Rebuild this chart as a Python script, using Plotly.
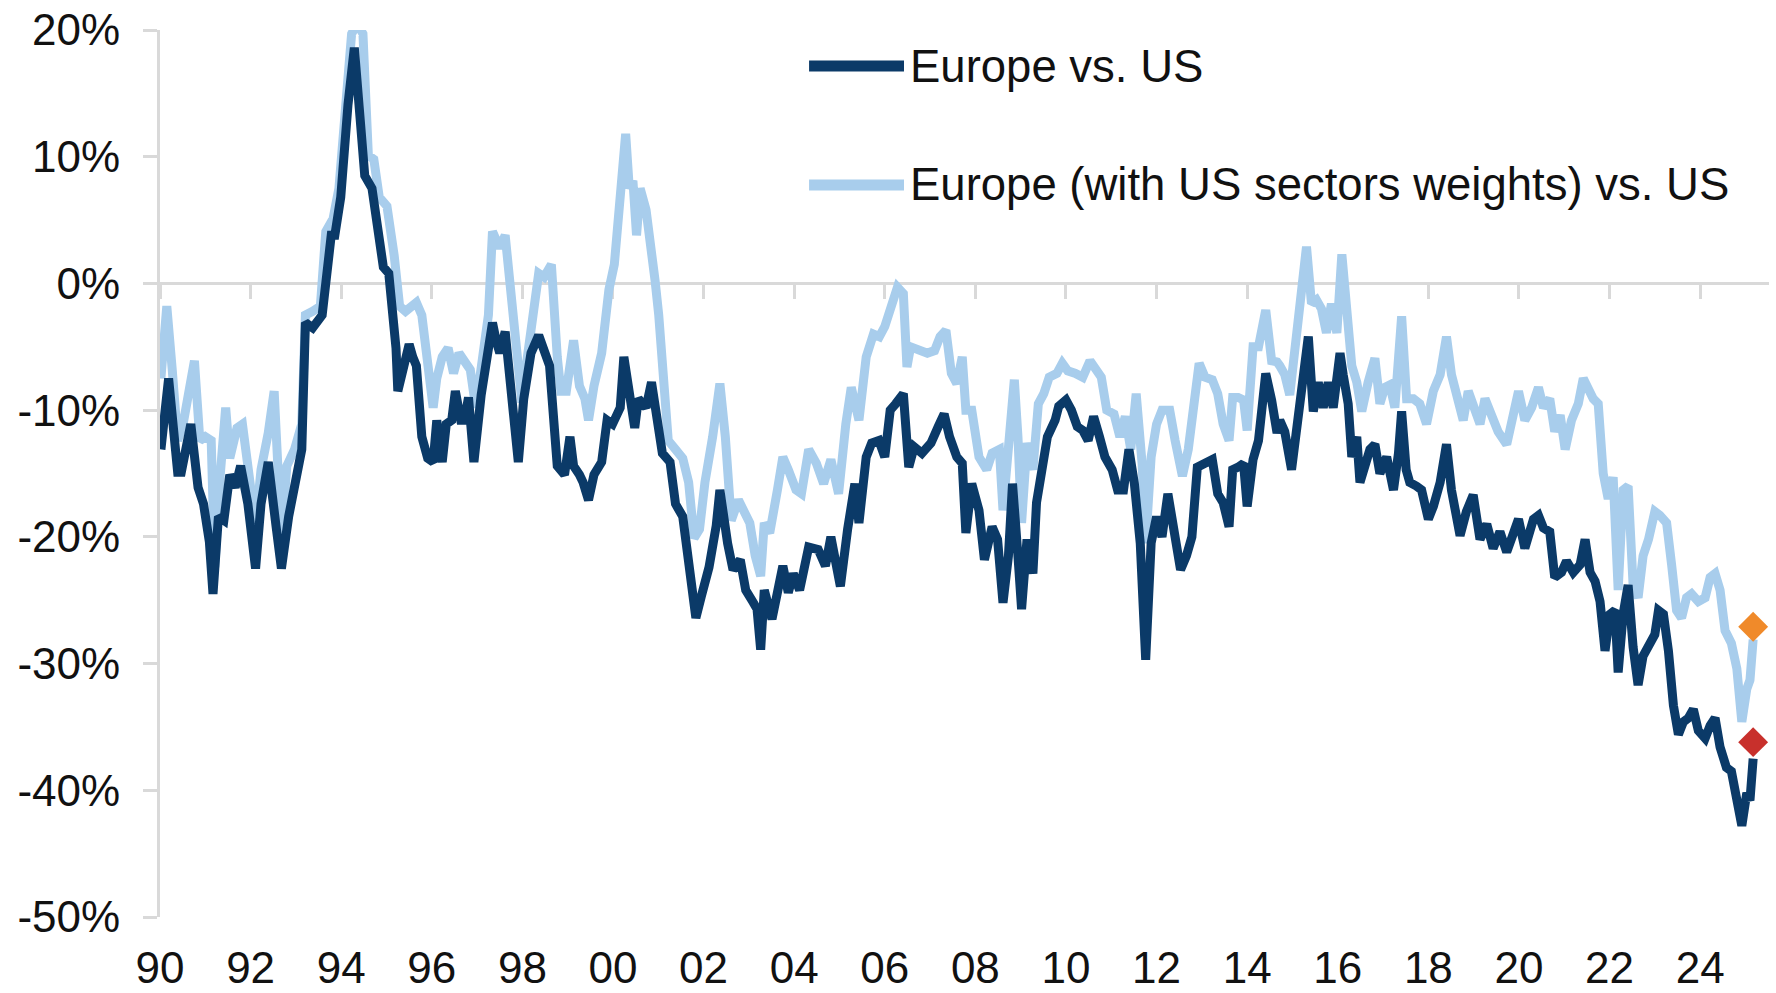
import plotly.graph_objects as go

# ---------------- data (decimal years, % relative performance) ----------------
eu_years = [
    1990.02, 1990.19, 1990.39, 1990.47, 1990.68, 1990.84, 1990.96, 1991.09, 1991.17, 1991.29,
    1991.41, 1991.54, 1991.66, 1991.78, 1991.94, 1992.11, 1992.23, 1992.39, 1992.56, 1992.68,
    1992.84, 1993.01, 1993.13, 1993.21, 1993.37, 1993.58, 1993.78, 1993.86, 1993.99, 1994.15,
    1994.29, 1994.40, 1994.52, 1994.68, 1994.80, 1994.89, 1994.93, 1995.05, 1995.21, 1995.25,
    1995.42, 1995.50, 1995.58, 1995.66, 1995.78, 1995.91, 1996.03, 1996.11, 1996.23, 1996.32,
    1996.44, 1996.52, 1996.64, 1996.72, 1996.81, 1996.93, 1997.09, 1997.21, 1997.34, 1997.42,
    1997.50, 1997.62, 1997.75, 1997.91, 1998.03, 1998.19, 1998.36, 1998.48, 1998.60, 1998.77,
    1998.93, 1999.05, 1999.13, 1999.26, 1999.34, 1999.46, 1999.58, 1999.75, 1999.87, 1999.99,
    2000.16, 2000.24, 2000.32, 2000.40, 2000.48, 2000.56, 2000.73, 2000.85, 2000.97, 2001.09,
    2001.26, 2001.38, 2001.54, 2001.67, 2001.83, 2001.95, 2002.12, 2002.28,
    2002.36, 2002.53, 2002.65, 2002.81, 2002.93, 2003.10, 2003.18, 2003.26, 2003.34, 2003.51,
    2003.63, 2003.75, 2003.87, 2003.98, 2004.12, 2004.32, 2004.53, 2004.69, 2004.81, 2005.02,
    2005.18, 2005.34, 2005.43, 2005.59, 2005.71, 2005.87, 2006.00, 2006.12, 2006.24, 2006.41,
    2006.53, 2006.65, 2006.82, 2007.02, 2007.18, 2007.31, 2007.43, 2007.59, 2007.71, 2007.79,
    2007.92, 2008.08, 2008.20, 2008.37, 2008.49, 2008.61, 2008.73, 2008.82, 2008.94, 2009.02,
    2009.14, 2009.27, 2009.35, 2009.47, 2009.59, 2009.76, 2009.84, 2010.00, 2010.12, 2010.25,
    2010.37, 2010.49, 2010.61, 2010.74, 2010.86, 2011.02, 2011.14, 2011.27, 2011.39, 2011.51,
    2011.64, 2011.76, 2011.88, 2012.00, 2012.12, 2012.25, 2012.37, 2012.53, 2012.66, 2012.78,
    2012.90, 2013.06, 2013.23, 2013.35, 2013.47, 2013.60, 2013.68, 2013.80, 2013.92, 2014.00,
    2014.13, 2014.25, 2014.41, 2014.54, 2014.66,
    2014.72, 2014.83, 2014.98, 2015.13, 2015.24, 2015.35, 2015.46, 2015.57, 2015.68, 2015.79,
    2015.90, 2015.98, 2016.05, 2016.12, 2016.23, 2016.31, 2016.42, 2016.49, 2016.60, 2016.71,
    2016.82, 2016.93, 2017.08, 2017.23, 2017.34, 2017.41, 2017.51, 2017.59, 2017.74, 2017.85,
    2018.00, 2018.11, 2018.26, 2018.40, 2018.51, 2018.59, 2018.70, 2018.84, 2018.99, 2019.14,
    2019.29, 2019.43, 2019.58, 2019.73, 2019.88, 2019.99, 2020.13, 2020.32, 2020.43, 2020.54,
    2020.68, 2020.79, 2020.94, 2021.05, 2021.20, 2021.35, 2021.46, 2021.57, 2021.68, 2021.79,
    2021.90, 2022.01, 2022.12, 2022.19, 2022.30, 2022.41, 2022.52, 2022.63, 2022.74, 2022.86,
    2023.00, 2023.08, 2023.19, 2023.30, 2023.41, 2023.52, 2023.63, 2023.74, 2023.85, 2023.96,
    2024.11, 2024.22, 2024.33, 2024.44, 2024.58, 2024.69, 2024.81, 2024.92, 2025.03, 2025.10,
    2025.17,
]
eu_values = [
    -13.1, -7.5, -14.9, -14.9, -11.1, -16.1, -17.4, -20.4, -24.5, -18.4,
    -18.7, -15.1, -16.1, -14.4, -17.4, -22.5, -17.4, -14.1, -19.1, -22.5,
    -18.4, -15.1, -13.1, -3.1, -3.5, -2.5, 3.8, 3.8, 6.8, 14.1,
    18.6, 13.8, 8.5, 7.5, 4.5, 2.8, 1.3, 0.8, -5.1, -8.5,
    -5.5, -4.8, -5.8, -6.5, -12.1, -13.8, -14.1, -10.8, -14.1, -11.1,
    -10.8, -8.5, -10.8, -10.8, -9.0, -14.1, -8.8, -5.8, -3.1, -4.5,
    -5.5, -3.8, -9.1, -14.1, -9.1, -5.5, -4.1, -5.5, -6.5, -14.4,
    -15.1, -12.1, -14.4, -15.1, -15.7, -17.1, -15.1, -14.1, -10.8, -11.1,
    -9.8, -5.8, -7.5, -8.8, -11.4, -9.1, -9.8, -7.8, -11.1, -13.4,
    -14.1, -17.4, -18.4, -22.4, -26.4, -24.7, -22.4, -19.1,
    -16.3, -20.5, -22.6, -21.8, -24.2, -25.2, -25.7, -28.9, -24.2, -26.5,
    -24.4, -22.3, -24.4, -22.9, -24.2, -20.8, -21.0, -22.3, -20.0, -23.9,
    -19.4, -15.8, -18.9, -13.7, -12.6, -12.4, -13.7, -10.0, -9.5, -8.7,
    -14.5, -12.9, -13.4, -12.6, -11.3, -10.3, -12.1, -13.7, -14.2, -19.7,
    -15.8, -17.9, -21.8, -19.2, -20.2, -25.2, -21.5, -15.8, -21.5, -25.7,
    -20.2, -22.9, -17.3, -14.2, -12.1, -10.8, -9.7, -9.2, -10.0, -11.3,
    -11.6, -12.4, -10.5, -12.1, -13.7, -14.7, -16.3, -16.3, -13.1, -15.8,
    -20.5, -29.7, -20.5, -18.4, -20.0, -16.6, -19.2, -22.6, -21.5, -20.0,
    -14.5, -14.2, -13.9, -16.6, -17.3, -19.2, -14.7, -14.5, -14.2, -17.6,
    -13.9, -12.4, -7.1, -9.2, -11.8,
    -10.8, -11.7, -14.7, -10.4, -7.2, -4.2, -10.1, -7.8, -9.8, -7.8,
    -9.8, -7.8, -5.5, -7.2, -9.5, -13.7, -12.1, -15.7, -14.4, -13.1,
    -12.7, -15.0, -13.7, -16.3, -13.4, -10.1, -14.7, -15.7, -16.0, -16.3,
    -18.6, -17.6, -15.7, -12.7, -16.3, -17.6, -19.9, -18.0, -16.7, -20.2,
    -19.0, -20.9, -19.6, -21.2, -19.6, -18.6, -20.9, -18.6, -18.3, -19.3,
    -19.6, -23.2, -22.8, -21.9, -22.8, -22.2, -20.2, -22.8, -23.5, -25.1,
    -29.0, -26.1, -25.8, -30.7, -26.1, -23.8, -28.7, -31.7, -29.4, -28.7,
    -27.7, -25.8, -26.1, -29.0, -33.3, -35.6, -34.6, -34.3, -33.6, -35.3,
    -35.9, -34.9, -34.3, -36.6, -38.2, -38.5, -40.5, -42.8, -40.2, -40.8,
    -37.5,
]

sw_years = [
    1990.02, 1990.15, 1990.27, 1990.39, 1990.51, 1990.64, 1990.76, 1990.88, 1991.00, 1991.13,
    1991.21, 1991.33, 1991.45, 1991.54, 1991.70, 1991.82, 1991.99, 1992.11, 1992.23, 1992.39,
    1992.52, 1992.60, 1992.68, 1992.80, 1992.97, 1993.13, 1993.21, 1993.37, 1993.54, 1993.66,
    1993.82, 1993.95, 1994.11, 1994.23, 1994.35, 1994.48, 1994.60, 1994.72, 1994.84, 1995.01,
    1995.17, 1995.29, 1995.42, 1995.58, 1995.66, 1995.78, 1995.91, 1996.03, 1996.11, 1996.23,
    1996.36, 1996.48, 1996.60, 1996.72, 1996.85, 1996.97, 1997.13, 1997.25, 1997.34, 1997.50,
    1997.62, 1997.75, 1997.87, 1997.99, 1998.11, 1998.28, 1998.36, 1998.48, 1998.64, 1998.77,
    1998.85, 1998.97, 1999.13, 1999.26, 1999.38, 1999.46, 1999.58, 1999.75, 1999.91, 2000.03,
    2000.16, 2000.28, 2000.36, 2000.44, 2000.52, 2000.60, 2000.73, 2000.85, 2000.93, 2001.01,
    2001.09, 2001.22, 2001.38, 2001.54, 2001.67, 2001.79, 2001.91, 2002.03, 2002.20,
    2002.36, 2002.48, 2002.61, 2002.77, 2002.89, 2003.02, 2003.14, 2003.26, 2003.34, 2003.46,
    2003.63, 2003.75, 2003.87, 2004.04, 2004.16, 2004.32, 2004.49, 2004.65, 2004.81, 2004.98,
    2005.14, 2005.26, 2005.43, 2005.59, 2005.75, 2005.88, 2006.00, 2006.12, 2006.20, 2006.28,
    2006.41, 2006.49, 2006.57, 2006.73, 2006.94, 2007.10, 2007.22, 2007.35, 2007.47, 2007.59,
    2007.71, 2007.79, 2007.92, 2008.08, 2008.25, 2008.37, 2008.53, 2008.61, 2008.73, 2008.86,
    2008.94, 2009.02, 2009.14, 2009.27, 2009.39, 2009.51, 2009.63, 2009.80, 2009.92, 2010.04,
    2010.21, 2010.37, 2010.53, 2010.65, 2010.78, 2010.90, 2011.06, 2011.19, 2011.31, 2011.43,
    2011.55, 2011.68, 2011.76, 2011.88, 2012.00, 2012.12, 2012.29, 2012.41, 2012.57, 2012.70,
    2012.82, 2012.94, 2013.07, 2013.23, 2013.35, 2013.47, 2013.60, 2013.68, 2013.80, 2013.92,
    2014.00, 2014.13, 2014.25, 2014.41, 2014.54, 2014.66,
    2014.72, 2014.83, 2014.94, 2015.09, 2015.24, 2015.31, 2015.42, 2015.53, 2015.64, 2015.75,
    2015.86, 2015.98, 2016.09, 2016.20, 2016.31, 2016.42, 2016.53, 2016.67, 2016.82, 2016.93,
    2017.04, 2017.15, 2017.26, 2017.41, 2017.52, 2017.67, 2017.81, 2017.96, 2018.11, 2018.26,
    2018.40, 2018.51, 2018.62, 2018.77, 2018.88, 2018.99, 2019.14, 2019.25, 2019.40, 2019.54,
    2019.73, 2019.88, 2019.99, 2020.13, 2020.28, 2020.43, 2020.54, 2020.68, 2020.79, 2020.91,
    2021.02, 2021.16, 2021.31, 2021.42, 2021.53, 2021.64, 2021.75, 2021.86, 2021.97, 2022.08,
    2022.19, 2022.30, 2022.41, 2022.52, 2022.63, 2022.74, 2022.86, 2023.00, 2023.11, 2023.26,
    2023.37, 2023.48, 2023.59, 2023.70, 2023.81, 2023.96, 2024.11, 2024.22, 2024.33, 2024.44,
    2024.55, 2024.69, 2024.81, 2024.92, 2025.03, 2025.10, 2025.17,
]
sw_values = [
    -7.5, -1.8, -6.8, -12.4, -11.1, -8.8, -6.1, -12.4, -12.1, -12.4,
    -22.4, -15.1, -9.8, -13.8, -11.4, -11.1, -15.1, -19.1, -14.7, -11.8,
    -8.5, -14.1, -20.1, -14.4, -13.1, -11.1, -2.5, -2.2, -1.8, 4.1,
    5.1, 7.5, 15.7, 19.7, 20.5, 19.7, 10.1, 9.8, 6.8, 6.1,
    2.2, -1.8, -2.2, -1.8, -1.5, -2.5, -5.8, -9.8, -7.5, -5.8,
    -5.1, -7.1, -5.5, -6.1, -6.8, -9.8, -5.8, -2.5, 4.1, 2.8,
    3.8, -0.8, -5.5, -9.4, -5.8, -0.5, 0.8, 0.5, 1.5, -5.8,
    -8.5, -8.5, -4.5, -8.1, -9.1, -10.8, -8.1, -5.5, -0.5, 1.5,
    6.8, 11.8, 7.5, 8.1, 3.8, 7.5, 5.8, 2.8, 0.2, -2.5,
    -5.8, -12.4, -13.1, -13.8, -15.7, -20.1, -19.4, -15.7, -12.1,
    -7.9, -12.1, -18.7, -17.1, -17.9, -18.9, -21.5, -23.1, -18.9, -19.7,
    -16.3, -13.7, -14.7, -16.3, -16.6, -13.1, -14.2, -15.8, -13.9, -16.6,
    -11.1, -8.2, -10.8, -5.8, -4.0, -4.2, -3.4, -2.1, -0.8, -0.3,
    -0.8, -6.6, -5.0, -5.3, -5.5, -5.3, -4.2, -3.7, -7.1, -7.9,
    -5.8, -10.0, -10.0, -13.7, -14.7, -13.4, -13.1, -17.9, -12.6, -7.6,
    -12.1, -18.9, -12.6, -14.7, -9.5, -8.7, -7.4, -7.1, -6.3, -6.9,
    -7.1, -7.4, -6.1, -6.9, -7.4, -10.0, -10.3, -12.1, -10.5, -13.1,
    -8.7, -14.2, -20.5, -13.7, -11.1, -10.0, -10.0, -12.4, -15.2, -13.1,
    -10.0, -6.3, -7.4, -7.6, -8.7, -11.1, -12.4, -9.0, -9.0, -9.2,
    -11.6, -5.0, -5.0, -2.1, -6.1, -6.2,
    -6.5, -7.2, -8.8, -4.6, 0.7, 2.9, -1.6, -1.3, -2.0, -3.9,
    -1.6, -3.9, 2.3, -3.3, -6.5, -7.8, -10.1, -7.8, -5.9, -9.5,
    -8.2, -8.0, -9.8, -2.6, -9.1, -9.1, -9.5, -11.1, -8.5, -7.2,
    -4.2, -7.2, -8.5, -10.8, -8.5, -9.8, -11.1, -9.1, -10.4, -11.7,
    -12.7, -10.1, -8.5, -10.8, -9.8, -8.2, -9.8, -9.1, -11.7, -10.4,
    -13.1, -10.8, -9.5, -7.5, -8.5, -9.1, -9.5, -15.0, -17.0, -15.3,
    -24.2, -16.3, -16.0, -23.8, -24.8, -21.5, -20.2, -18.0, -18.3, -18.9,
    -22.2, -25.8, -26.4, -24.8, -24.5, -25.1, -24.8, -23.2, -22.9, -24.2,
    -27.4, -28.4, -30.4, -34.6, -32.0, -31.3, -28.1,
]

# latest readings highlighted with diamonds
latest_year = [2025.17]
latest_eu = [-36.2]
latest_sw = [-27.1]

series_names = ["Europe vs. US", "Europe (with US sectors weights) vs. US"]
x_tick_vals = list(range(1990, 2025, 2))
x_tick_text = ["90", "92", "94", "96", "98", "00", "02", "04", "06", "08",
               "10", "12", "14", "16", "18", "20", "22", "24"]
y_tick_vals = [-50, -40, -30, -20, -10, 0, 10, 20]
y_tick_text = ["-50%", "-40%", "-30%", "-20%", "-10%", "0%", "10%", "20%"]

DARK = "#0b3a68"
LIGHT = "#a8cdec"
ORANGE = "#f08a2a"
RED = "#c8302c"
AXIS = "#d9d9d9"
TXT = "#111111"
FONT = "Arial, 'Liberation Sans', sans-serif"
X_RANGE = [1990, 2025.52]

fig = go.Figure()
fig.add_trace(go.Scatter(x=sw_years, y=sw_values, mode="lines", name=series_names[1],
                         line=dict(color=LIGHT, width=9), showlegend=False))
fig.add_trace(go.Scatter(x=eu_years, y=eu_values, mode="lines", name=series_names[0],
                         line=dict(color=DARK, width=9), showlegend=False))
# diamonds go on the overlaid label axis so they sit above the lines
fig.add_trace(go.Scatter(x=latest_year, y=latest_sw, mode="markers", showlegend=False,
                         xaxis="x2", cliponaxis=False,
                         marker=dict(symbol="diamond", size=23, color=ORANGE)))
fig.add_trace(go.Scatter(x=latest_year, y=latest_eu, mode="markers", showlegend=False,
                         xaxis="x2", cliponaxis=False,
                         marker=dict(symbol="diamond", size=23, color=RED)))

# manual legend (long thick line samples as in the original)
legend_rows = [(0.9594, DARK, series_names[0]), (0.8253, LIGHT, series_names[1])]
for ypos, col, label in legend_rows:
    fig.add_shape(type="line", xref="paper", yref="paper", x0=0.4034, x1=0.4624,
                  y0=ypos, y1=ypos, line=dict(color=col, width=11))
    fig.add_annotation(xref="paper", yref="paper", x=0.4649, y=ypos, text=label,
                       showarrow=False, xanchor="left", yanchor="middle",
                       font=dict(family=FONT, size=45.5, color=TXT))

fig.update_layout(
    width=1776, height=993,
    margin=dict(l=160, r=7, t=30, b=76, autoexpand=False),
    paper_bgcolor="white", plot_bgcolor="white",
    font=dict(family=FONT, size=44, color=TXT),
    showlegend=False,
    # main x axis sits on the 0% line (line + tick marks, no labels)
    xaxis=dict(range=X_RANGE, anchor="free", position=50 / 70, showline=True,
               linecolor=AXIS, linewidth=3, ticks="outside", ticklen=14, tickwidth=3,
               tickcolor=AXIS, tickvals=x_tick_vals, showticklabels=False,
               showgrid=False, zeroline=False, layer="below traces", automargin=False),
    # label axis at the bottom of the plot
    xaxis2=dict(range=X_RANGE, overlaying="x", anchor="y", side="bottom",
                showline=False, ticks="outside", ticklen=12, tickcolor="rgba(0,0,0,0)",
                tickvals=x_tick_vals, ticktext=x_tick_text, showgrid=False, zeroline=False,
                automargin=False, ticklabeloverflow="allow",
                tickfont=dict(family=FONT, size=44, color=TXT)),
    yaxis=dict(range=[-50, 20], showline=True, linecolor=AXIS, linewidth=3,
               ticks="outside", ticklen=14, tickwidth=3, tickcolor=AXIS,
               tickvals=y_tick_vals, ticktext=y_tick_text, showgrid=False,
               zeroline=False, ticklabelstandoff=14, layer="below traces",
               automargin=False, ticklabeloverflow="allow",
               tickfont=dict(family=FONT, size=44, color=TXT)),
)

# remove the browser's default 8px page margin so the figure fills the window exactly
fig.write_html("out.html", config={"displayModeBar": False},
               post_script="document.body.style.margin='0';")
